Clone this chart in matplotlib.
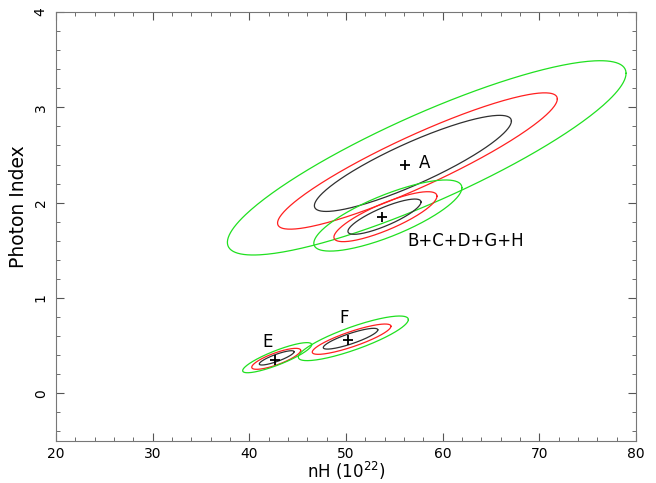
import numpy as np
import matplotlib.pyplot as plt

# confidence contours (68/90/99%)
# each contour: centre x, centre y, half-width in nH, half-height in index, tilt (cos of phase)
names = ['A', 'BCDGH', 'E', 'F']
best_nh = [56.1, 53.7, 42.65, 50.2]
best_gamma = [2.39, 1.85, 0.35, 0.56]

cx = {'A': [56.92, 57.39, 58.35], 'BCDGH': [53.98, 54.08, 54.33],
      'E': [42.83, 42.78, 42.88], 'F': [50.47, 50.58, 50.76]}
cy = {'A': [2.412, 2.437, 2.47], 'BCDGH': [1.853, 1.853, 1.865],
      'E': [0.372, 0.362, 0.374], 'F': [0.573, 0.568, 0.577]}
ax_nh = {'A': [10.19, 14.47, 20.62], 'BCDGH': [3.78, 5.33, 7.66],
         'E': [1.80, 2.53, 3.57], 'F': [2.82, 4.07, 5.69]}
ay_g = {'A': [0.504, 0.715, 1.019], 'BCDGH': [0.185, 0.262, 0.373],
        'E': [0.075, 0.110, 0.158], 'F': [0.109, 0.159, 0.234]}
tilt = {'A': [0.88, 0.91, 0.87], 'BCDGH': [0.83, 0.82, 0.78],
        'E': [0.85, 0.80, 0.86], 'F': [0.85, 0.85, 0.84]}

levels_col = ['#303030', '#ff2020', '#20e020']

labels = ['A', 'B+C+D+G+H', 'E', 'F']
label_x = [57.5, 56.4, 41.9, 49.8]
label_y = [2.42, 1.60, 0.54, 0.79]

fig = plt.figure(figsize=(6.56, 4.83), dpi=100)
ax = fig.add_axes([56/656, 42/483, 580/656, 429/483])

t = np.linspace(0, 2*np.pi, 300)
for n in names:
    for i in range(3):
        ph = np.arccos(tilt[n][i])
        xs = cx[n][i] + ax_nh[n][i]*np.cos(t)
        ys = cy[n][i] + ay_g[n][i]*np.cos(t + ph)
        ax.plot(xs, ys, color=levels_col[i], lw=0.9)

ax.plot(best_nh, best_gamma, '+', color='black', ms=7, mew=1.3)

for lab, lx, ly in zip(labels, label_x, label_y):
    ax.text(lx, ly, lab, fontsize=12, va='center', ha='left' if lab != 'E' and lab != 'F' else 'center')

ax.set_xlim(20, 80)
ax.set_ylim(-0.5, 4)
ax.set_xticks(np.arange(20, 81, 10))
ax.set_yticks(np.arange(0, 5, 1))
ax.set_xticks(np.arange(20, 81, 2), minor=True)
ax.set_yticks(np.arange(-0.4, 4.01, 0.2), minor=True)
ax.tick_params(which='both', direction='in', top=True, right=True, color='#555555')
ax.tick_params(which='major', length=6, labelsize=10)
ax.tick_params(which='minor', length=3)
ax.tick_params(axis='x', which='major', pad=4.5)
ax.tick_params(axis='y', which='major', pad=6)
for lab in ax.get_yticklabels():
    lab.set_rotation(90)
    lab.set_va('center')
for s in ax.spines.values():
    s.set_color('#777777')

ax.set_xlabel('nH ($10^{22}$)', fontsize=12, va='center')
ax.xaxis.set_label_coords(0.5, -30/429)
ax.set_ylabel('Photon Index', fontsize=13.5, va='center')
ax.yaxis.set_label_coords(-38/580, 234/429)

plt.savefig('out.png', dpi=100)
